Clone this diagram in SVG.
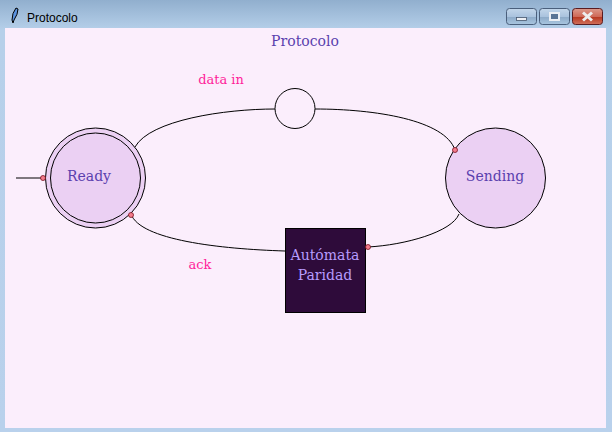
<svg xmlns="http://www.w3.org/2000/svg" width="612" height="432" viewBox="0 0 612 432">
<style>
.lbl{font-family:"DejaVu Serif","Liberation Serif",serif;font-size:14px;text-anchor:middle}
.st{fill:#5a3fae}
.pk{fill:#ff1f9a;font-size:13px}
.au{fill:#b79cff}
.edge{fill:none;stroke:#000;stroke-width:1}
.dot{fill:#f47c8c;stroke:#7a1020;stroke-width:.8}
.node{fill:#ebd0f3;stroke:#000;stroke-width:1}
.btn{stroke:#4a5f7c;stroke-width:1}
</style>
<defs>
<linearGradient id="frame" x1="0" y1="0" x2="0" y2="1">
<stop offset="0" stop-color="#91afce"/><stop offset=".07" stop-color="#b6d0ea"/><stop offset="1" stop-color="#b9d1ec"/>
</linearGradient>
<linearGradient id="blue" x1="0" y1="0" x2="0" y2="1">
<stop offset="0" stop-color="#c3d6ea"/><stop offset=".5" stop-color="#aac3de"/><stop offset=".55" stop-color="#8eabc9"/><stop offset="1" stop-color="#a9c6e0"/>
</linearGradient>
<linearGradient id="red" x1="0" y1="0" x2="0" y2="1">
<stop offset="0" stop-color="#dc9a8c"/><stop offset=".5" stop-color="#cf6a58"/><stop offset=".55" stop-color="#b83a22"/><stop offset="1" stop-color="#d0705c"/>
</linearGradient>
</defs>
<g id="window">
<rect width="612" height="432" fill="url(#frame)"/>
<rect x="5" y="28" width="601" height="400" fill="#fbeefc"/>
<path d="M16 8 Q12 13 12 20 L13 23 L14 20 Q18 14 18 9Z" fill="#5b93e0" stroke="#000" stroke-width="1"/>
<text x="27" y="22" font-family="'Liberation Sans',sans-serif" font-size="12" fill="#000">Protocolo</text>
<rect x="506.500" y="8.500" width="30" height="16" rx="3" fill="url(#blue)" class="btn"/>
<rect x="516.500" y="17.500" width="10" height="3" fill="#eceff4" stroke="#46566e" stroke-width=".8"/>
<rect x="539.500" y="8.500" width="30" height="16" rx="3" fill="url(#blue)" class="btn"/>
<rect x="550" y="13" width="9" height="7" fill="#5b7595" stroke="#eceff4" stroke-width="2"/>
<rect x="572.500" y="8.500" width="30" height="16" rx="3" fill="url(#red)" stroke="#5a1c20"/>
<path d="M583 12.500 L592 20.500 M592 12.500 L583 20.500" stroke="#eee" stroke-width="3"/>
</g>
<text class="lbl st" x="305" y="46" font-size="15">Protocolo</text>
<g id="connectors">
<path class="edge" d="M16 178 H43"/>
<path class="edge" d="M135 147 C150 120 225 109 275 109"/>
<path class="edge" d="M315 109 C375 109 445 120 455 150"/>
<path class="edge" d="M459 214 C452 232 405 245 368 247"/>
<path class="edge" d="M285 251 C220 249 140 240 131 214"/>
</g>
<text class="lbl pk" x="221" y="84">data in</text>
<text class="lbl pk" x="200" y="269">ack</text>
<g id="ready">
<circle class="node" cx="95.500" cy="178" r="50"/>
<circle class="node" cx="95.500" cy="178" r="45"/>
<text class="lbl st" x="89" y="181">Ready</text>
</g>
<g id="sending">
<circle class="node" cx="495.500" cy="178" r="50"/>
<text class="lbl st" x="495" y="181">Sending</text>
</g>
<g id="choice">
<circle cx="295" cy="108.500" r="20" fill="#fbeefc" stroke="#000"/>
</g>
<g id="automata">
<rect x="285.500" y="228.500" width="80" height="84" fill="#2e0b3a" stroke="#000"/>
<text class="lbl au" x="325" y="260">Autómata</text>
<text class="lbl au" x="325" y="280">Paridad</text>
</g>
<g id="ports">
<circle class="dot" cx="43" cy="178" r="2.500"/>
<circle class="dot" cx="455" cy="150" r="2.500"/>
<circle class="dot" cx="368" cy="247" r="2.500"/>
<circle class="dot" cx="131" cy="215" r="2.500"/>
</g>
</svg>
